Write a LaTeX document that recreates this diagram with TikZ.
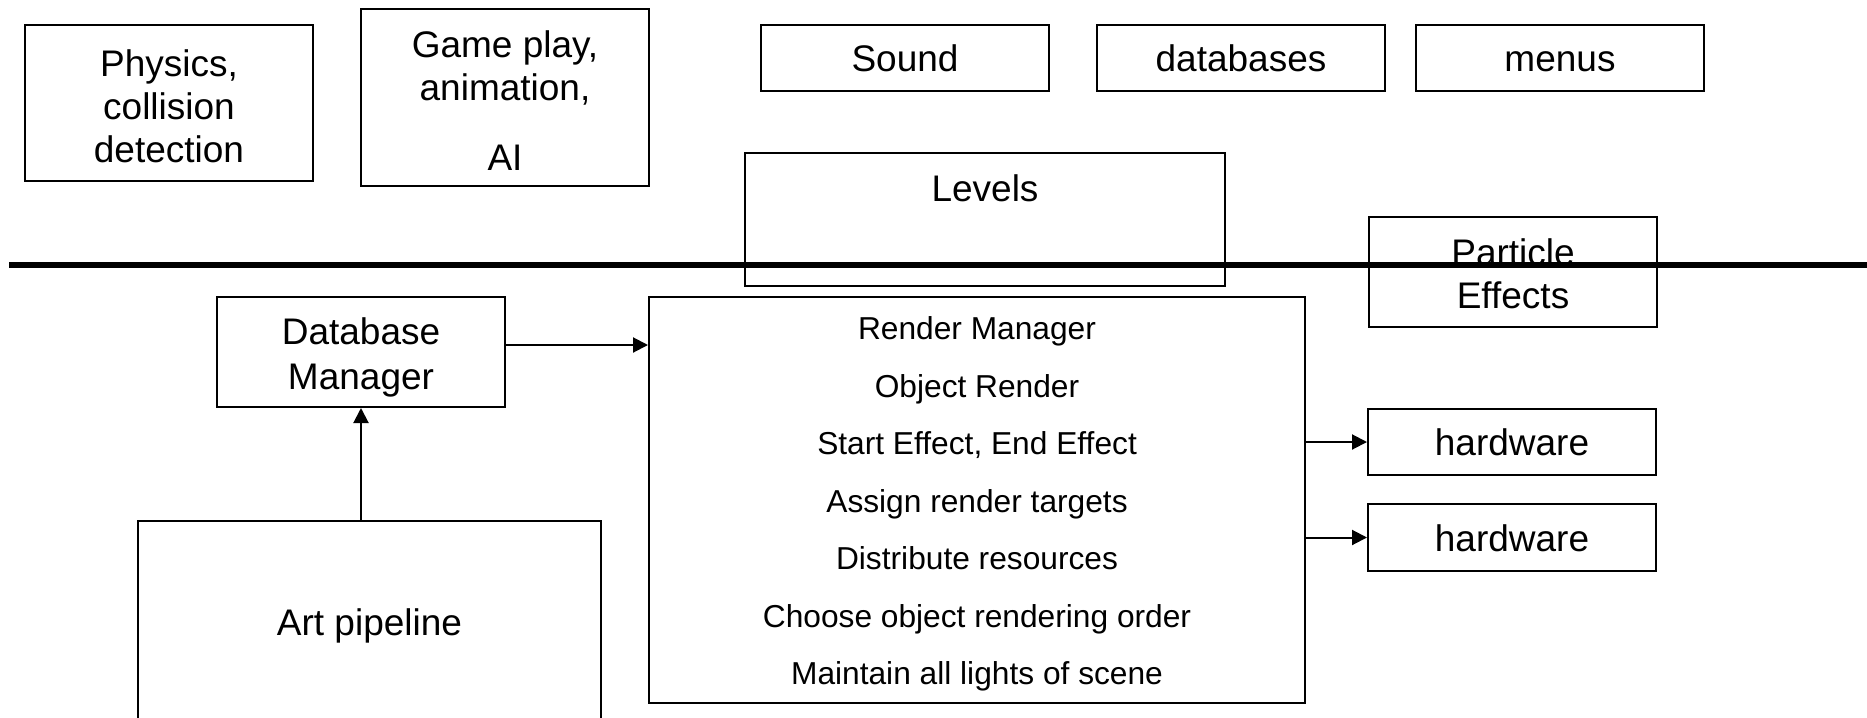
\documentclass[tikz,border=0pt]{standalone}
\usepackage{fontspec}
\setmainfont{Liberation Sans}
\usetikzlibrary{arrows.meta}
\newcommand\toppad[1]{\rule{0pt}{#1}}
\begin{document}
\begin{tikzpicture}[x=1pt,y=1pt,
  box/.style={draw, line width=2pt, minimum width=288pt, inner sep=0pt, align=center,
    font=\fontsize{37}{43}\selectfont},
  one/.style={text height=35.5pt, text depth=7.8pt},
  rtext/.style={font=\fontsize{31.7}{57.5}\selectfont},
  arr/.style={line width=2pt, -{Triangle[length=15pt,width=15pt]}},
  divider/.style={line width=6pt}]
\useasboundingbox (0,0) rectangle (1867,-717);
\clip (0,0) rectangle (1867,-717);

% upper layer
\node[box, minimum height=156pt] (phys) at (169,-103) {\toppad{33pt}Physics,\\collision\\detection};
\node[box, minimum height=177pt] (game) at (505,-97.5) {\toppad{33pt}Game play,\\animation,\\[27pt]AI};
\node[box, one, minimum height=66pt] (sound) at (905,-58) {Sound};
\node[box, one, minimum height=66pt] (dbs) at (1241,-58) {databases};
\node[box, one, minimum height=66pt] (menus) at (1560,-58) {menus};
\node[box, minimum width=480pt, minimum height=133pt] (levels) at (985,-219.5) {};
\node[box, one, draw=none] (levelslbl) at (985,-188) {Levels};
\node[box, minimum height=110pt] (particle) at (1513,-272) {\toppad{31pt}Particle\\Effects};

% lower layer
\node[box, minimum height=110pt, font=\fontsize{37}{45}\selectfont] (dbm) at (361,-352) {\toppad{38pt}Database\\Manager};
\node[box, minimum width=656pt, minimum height=406pt, rtext] (render) at (977,-500)
  {\toppad{31pt}Render Manager\\Object Render\\Start Effect, End Effect\\Assign render targets\\Distribute resources\\Choose object rendering order\\Maintain all lights of scene};
\node[box, one, minimum height=66pt] (hw1) at (1512,-442) {hardware};
\node[box, one, minimum height=67pt] (hw2) at (1512,-537.5) {hardware};
\node[box, text height=34.4pt, text depth=7.8pt, minimum width=463pt, minimum height=202pt] (art) at (369.5,-622) {Art pipeline};

% connectors
\draw[arr] ([yshift=7pt]dbm.east) -- ([yshift=7pt]dbm.east -| render.west);
\draw[arr] (dbm.south |- art.north) -- (dbm.south);
\draw[arr] (render.east |- hw1.west) -- (hw1.west);
\draw[arr] (render.east |- hw2.west) -- (hw2.west);

% divider line
\coordinate (divL) at (9,-265);
\coordinate (divR) at (1867,-265);
\draw[divider] (divL) -- (divR);
\end{tikzpicture}
\end{document}
